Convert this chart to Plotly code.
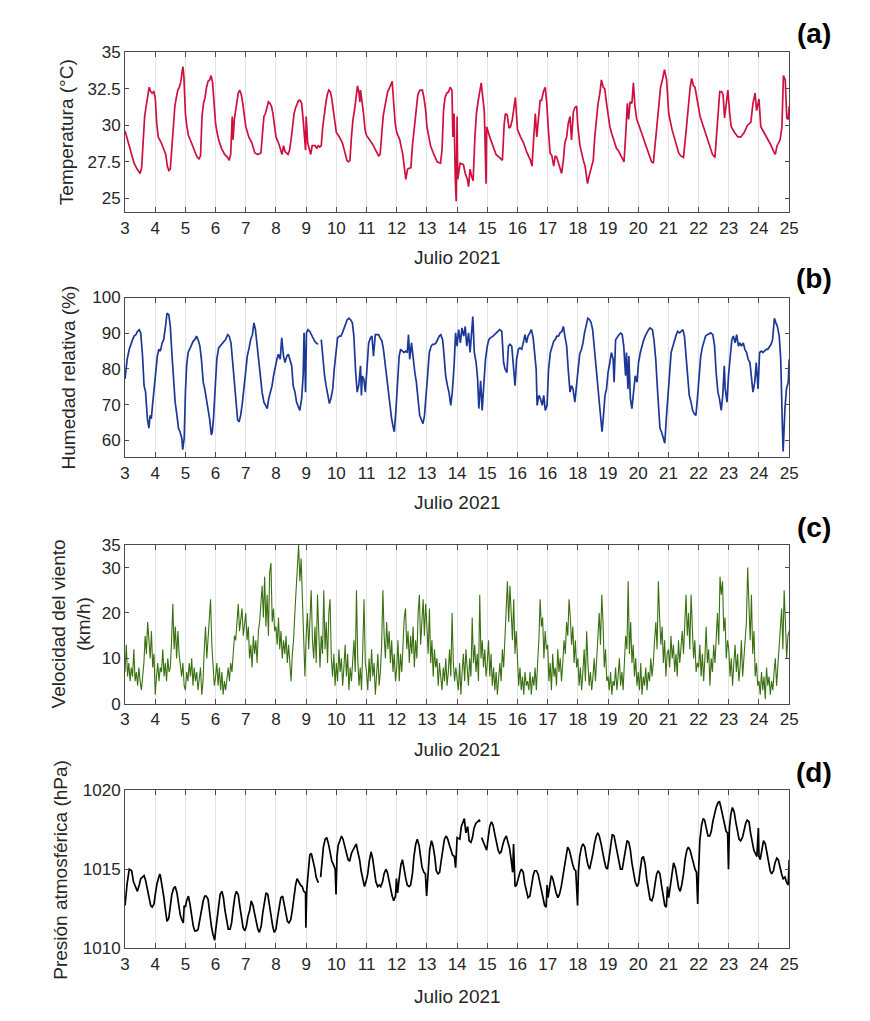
import plotly.graph_objects as go

# ---------------- data ----------------
days = list(range(3, 26))
day_labels = [str(d) for d in days]
day_labels_b = [str(d) for d in days]
day_labels_b[days.index(17)] = "16"   # as printed in panel (b)

temp_day = [3.0,3.1,3.2,3.3,3.4,3.5,3.55,3.6,3.65,3.7,3.75,3.8,3.85,3.9,3.95,4.0,4.05,4.1,4.2,4.3,4.35,4.4,4.45,4.5,4.55,4.6,4.65,4.7,4.75,4.8,4.85,4.9,4.92,4.95,
            5.0,5.05,5.1,5.2,5.3,5.35,5.4,5.45,5.5,5.55,5.6,5.65,5.7,5.75,5.8,5.85,5.9,5.95,6.0,6.05,6.1,6.2,6.3,6.4,6.45,6.5,6.55,6.58,6.62,6.7,6.75,6.8,6.85,6.9,6.95,
            7.0,7.1,7.2,7.3,7.4,7.5,7.55,7.6,7.65,7.7,7.75,7.8,7.85,7.9,7.95,8.0,8.1,8.15,8.2,8.25,8.3,8.4,8.45,8.5,8.55,8.6,8.65,8.7,8.75,8.8,8.85,8.9,8.95,8.98,
            9.0,9.03,9.05,9.1,9.15,9.2,9.3,9.35,9.4,9.45,9.5,9.55,9.6,9.65,9.7,9.75,9.8,9.85,9.9,9.95,10.0,10.1,10.2,10.3,10.35,10.4,10.45,10.5,10.55,10.6,10.65,10.7,10.75,10.78,10.8,10.85,10.9,10.95,
            11.0,11.1,11.2,11.3,11.35,11.4,11.45,11.5,11.55,11.6,11.65,11.7,11.75,11.8,11.85,11.9,11.95,12.0,12.1,12.2,12.25,12.3,12.36,12.47,12.52,12.63,12.7,12.77,12.85,12.9,12.96,
            13.0,13.12,13.23,13.34,13.45,13.5,13.55,13.6,13.66,13.72,13.77,13.83,13.86,13.9,13.94,13.97,14.0,14.02,14.1,14.21,14.27,14.34,14.38,14.43,14.48,14.53,14.59,14.64,14.7,14.75,14.8,14.85,14.9,14.96,14.98,
            15.08,15.18,15.29,15.4,15.5,15.56,15.6,15.66,15.72,15.77,15.83,15.93,16.0,16.1,16.2,16.3,16.43,16.48,16.53,16.59,16.64,16.7,16.75,16.8,16.86,16.92,16.97,
            17.03,17.08,17.14,17.2,17.25,17.3,17.36,17.41,17.46,17.52,17.57,17.63,17.68,17.74,17.79,17.85,17.9,17.96,18.0,18.07,18.13,18.18,18.24,18.29,18.32,18.37,18.46,18.51,18.56,18.62,18.67,18.73,18.78,18.84,18.89,18.95,
            19.0,19.06,19.11,19.22,19.28,19.33,19.44,19.53,19.58,19.64,19.68,19.73,19.79,19.84,19.89,19.95,20.04,20.15,20.26,20.37,20.44,20.5,20.58,20.69,20.74,20.8,20.87,20.94,
            21.01,21.12,21.23,21.34,21.41,21.5,21.59,21.66,21.72,21.77,21.83,21.88,21.96,22.05,22.16,22.27,22.37,22.46,22.54,22.59,22.65,22.7,22.76,22.81,22.86,22.92,22.97,
            23.03,23.08,23.19,23.3,23.4,23.51,23.62,23.73,23.8,23.87,23.92,24.0,24.06,24.17,24.27,24.38,24.49,24.54,24.6,24.7,24.76,24.81,24.87,24.92,24.97,25.0]
temp_c = [29.6,28.8,28.1,27.4,27.0,26.7,27.1,29.2,30.6,31.3,32.1,32.6,32.3,32.2,32.3,31.9,30.1,29.2,28.8,28.3,28.0,27.2,26.9,27.0,28.6,30.1,31.3,31.9,32.4,32.6,33.0,33.8,34.0,33.3,
          30.8,29.9,29.3,28.8,28.2,28.0,27.8,27.7,27.9,30.6,31.5,31.9,32.6,33.0,33.1,33.4,32.9,31.5,30.1,29.5,29.0,28.4,28.0,27.8,27.6,28.0,30.6,29.0,30.4,31.5,32.2,32.4,32.1,31.5,30.6,
          29.9,29.2,28.8,28.1,28.0,28.1,29.2,30.6,30.8,31.2,31.6,31.5,31.3,30.8,30.1,29.2,28.7,28.4,28.0,28.6,28.2,28.0,28.3,29.0,30.1,30.8,31.2,31.5,31.7,31.7,31.5,30.4,29.2,28.3,
          30.6,29.0,28.8,28.4,28.0,28.6,28.6,28.4,28.6,28.5,28.6,29.9,30.8,31.5,32.1,32.4,32.3,31.8,31.0,30.1,29.5,29.2,28.8,28.0,27.6,27.5,27.6,29.2,30.4,31.0,31.9,32.7,32.2,31.6,32.4,31.7,30.8,29.7,
          29.3,29.0,28.7,28.3,28.1,27.9,28.0,29.2,30.6,31.2,31.9,32.3,32.5,32.7,33.0,31.5,30.1,29.5,29.0,28.0,27.2,26.3,27.0,27.1,28.6,30.8,32.1,32.4,32.4,31.9,31.0,
          29.9,28.6,28.0,27.5,27.4,28.3,31.0,31.9,32.2,32.3,32.6,32.4,29.2,30.8,26.3,24.8,30.6,26.3,27.4,27.3,26.7,26.3,25.8,27.0,26.5,26.2,29.2,30.8,31.7,32.4,32.9,31.9,31.0,26.0,29.9,
          29.2,28.6,28.0,27.8,27.6,30.1,30.8,30.7,29.8,29.9,30.4,31.9,29.7,29.2,28.8,28.2,27.6,27.2,29.0,30.8,29.2,30.8,31.7,31.7,32.3,32.6,31.5,
          29.5,28.1,27.9,27.2,27.9,27.8,27.4,27.0,26.7,27.6,28.8,29.2,30.1,30.6,29.0,30.9,31.2,31.3,29.9,28.6,27.9,27.6,27.2,26.6,26.0,26.5,27.2,27.6,29.2,30.6,31.5,32.2,33.1,32.6,32.5,31.5,
          30.6,29.9,29.5,28.8,28.4,28.3,27.8,27.5,29.2,31.5,30.4,31.6,31.5,32.9,31.3,30.4,29.9,29.2,28.6,27.9,27.5,27.4,29.2,31.5,32.6,33.1,33.8,33.1,
          30.8,29.7,28.8,28.1,27.9,27.8,29.7,31.5,32.6,33.2,32.7,32.6,31.7,30.6,29.9,29.2,28.6,28.0,27.8,29.2,31.5,32.3,32.3,32.1,30.5,31.5,32.4,
          30.8,29.9,29.5,29.2,29.2,29.5,30.0,30.2,31.5,32.2,31.0,31.8,29.9,29.5,29.1,28.7,28.2,28.0,28.6,29.0,29.9,33.4,33.1,30.5,30.4,31.3]

hum_day = [3.0,3.07,3.14,3.2,3.25,3.3,3.36,3.41,3.47,3.52,3.58,3.63,3.68,3.74,3.79,3.83,3.87,3.92,3.96,4.01,4.07,4.12,4.17,4.23,4.28,4.34,4.39,4.45,4.5,4.55,4.61,4.66,4.72,4.77,4.82,4.88,4.91,4.96,
           5.0,5.04,5.09,5.15,5.2,5.26,5.31,5.37,5.42,5.48,5.53,5.59,5.64,5.69,5.75,5.8,5.86,5.89,5.93,6.0,6.04,6.1,6.15,6.21,6.26,6.33,6.4,6.45,6.51,6.56,6.62,6.67,6.73,6.78,6.83,6.89,6.94,
           7.0,7.05,7.11,7.16,7.22,7.27,7.32,7.38,7.43,7.49,7.54,7.6,7.65,7.71,7.76,7.81,7.87,7.92,7.98,8.03,8.08,8.14,8.19,8.25,8.3,8.36,8.41,8.46,8.52,8.57,8.63,8.68,8.74,8.79,8.85,8.9,8.93,8.98,
           9.01,9.06,9.12,9.17,9.23,9.28,9.33,9.39,9.45,9.5,9.55,9.61,9.66,9.72,9.77,9.82,9.88,9.93,9.99,10.04,10.1,10.15,10.2,10.26,10.31,10.36,10.42,10.47,10.53,10.58,10.64,10.69,10.74,10.8,10.83,10.86,10.91,10.96,
           11.02,11.07,11.13,11.18,11.23,11.29,11.34,11.4,11.45,11.51,11.56,11.62,11.67,11.72,11.78,11.83,11.89,11.92,11.97,12.03,12.08,12.13,12.18,12.24,12.29,12.35,12.39,12.43,12.49,12.54,12.6,12.65,12.71,12.76,12.82,12.87,12.92,12.98,
           13.03,13.08,13.14,13.19,13.24,13.3,13.35,13.41,13.46,13.52,13.57,13.62,13.68,13.73,13.79,13.84,13.9,13.95,14.0,14.05,14.11,14.16,14.22,14.27,14.32,14.38,14.43,14.49,14.52,14.57,14.63,14.68,14.72,14.78,14.83,14.89,14.94,
           15.0,15.05,15.1,15.19,15.3,15.41,15.48,15.54,15.59,15.65,15.7,15.75,15.81,15.86,15.92,15.97,16.03,16.08,16.14,16.19,16.25,16.3,16.35,16.41,16.46,16.52,16.57,16.62,16.65,16.71,16.76,16.82,16.87,16.92,16.98,
           17.03,17.09,17.14,17.2,17.25,17.3,17.36,17.41,17.47,17.52,17.57,17.63,17.68,17.74,17.79,17.84,17.9,17.95,18.01,18.06,18.12,18.17,18.22,18.28,18.33,18.39,18.44,18.49,18.55,18.6,18.66,18.71,18.76,18.8,18.84,18.9,18.95,
           19.0,19.06,19.11,19.17,19.2,19.25,19.31,19.36,19.42,19.47,19.52,19.58,19.61,19.66,19.69,19.74,19.79,19.85,19.9,19.96,20.01,20.07,20.12,20.17,20.23,20.28,20.34,20.39,20.47,20.52,20.58,20.63,20.68,20.72,20.77,20.82,20.88,20.93,20.99,
           21.04,21.09,21.15,21.2,21.26,21.31,21.37,21.42,21.48,21.53,21.58,21.64,21.69,21.75,21.8,21.85,21.91,21.96,22.02,22.07,22.12,22.18,22.23,22.29,22.4,22.47,22.53,22.58,22.64,22.69,22.75,22.8,22.85,22.88,22.94,22.99,
           23.05,23.1,23.15,23.21,23.26,23.32,23.37,23.42,23.48,23.53,23.59,23.64,23.7,23.75,23.8,23.86,23.91,23.97,24.02,24.08,24.13,24.18,24.24,24.29,24.35,24.4,24.45,24.51,24.56,24.61,24.67,24.72,24.78,24.8,24.86,24.91,24.97,25.0]
hum_pct = [77.2,82.7,85.5,87.3,88.2,89.2,89.6,90.5,91.0,90.1,83.6,75.3,73.5,66.1,63.4,67.0,66.1,70.7,74.4,79.0,83.6,85.5,85.0,87.3,88.2,91.9,95.6,95.2,91.9,84.6,77.2,70.7,67.0,63.4,62.4,60.6,57.4,60.6,
           73.5,80.9,84.6,85.9,86.9,87.8,88.2,89.2,88.2,86.4,82.7,76.3,74.4,71.7,69.8,66.1,61.5,62.4,66.1,77.2,82.7,85.9,86.4,87.3,87.8,88.2,89.6,89.2,87.3,82.7,76.3,70.7,65.7,65.2,67.0,70.7,75.3,
           80.9,83.6,85.9,88.2,89.6,92.9,91.0,86.4,82.7,77.2,73.5,70.7,69.8,68.9,71.7,73.5,75.3,78.1,81.3,82.7,84.1,82.7,88.7,83.6,81.8,83.6,84.1,82.7,80.9,75.3,73.5,70.7,69.3,68.4,71.7,78.1,90.1,73.5,
           90.1,91.0,90.5,89.6,88.7,87.8,87.3,86.9,None,88.2,82.7,78.1,75.3,72.6,70.3,71.7,74.4,79.9,85.5,88.7,89.2,89.2,90.1,91.5,92.9,93.8,94.2,93.8,92.9,89.2,79.0,73.5,75.3,80.9,72.6,78.0,77.2,73.5,
           80.9,87.3,88.7,89.2,83.6,89.6,89.6,89.6,88.7,87.8,85.5,80.9,77.2,73.5,69.8,66.1,63.4,62.4,68.0,76.3,83.6,85.5,85.0,84.6,85.0,84.6,89.6,82.7,87.3,82.7,79.0,76.3,70.7,67.0,65.7,64.7,67.0,72.6,
           79.0,84.6,86.4,86.9,86.9,87.3,88.2,89.2,89.6,88.2,83.6,78.1,75.3,73.5,69.8,73.5,80.9,90.1,86.4,91.0,87.3,91.5,89.2,91.9,86.4,90.1,84.6,91.0,94.7,84.6,81.8,77.2,68.9,76.7,68.4,76.3,82.7,
           86.4,88.2,88.7,89.2,90.1,91.0,90.5,81.8,79.9,79.0,86.4,86.9,86.4,80.4,75.3,82.7,85.5,85.9,85.5,87.3,89.6,87.3,89.2,90.1,91.0,88.7,83.6,79.9,69.8,72.6,71.7,69.8,72.6,68.4,69.8,
           79.9,84.6,86.4,87.8,88.2,89.2,89.2,90.1,90.5,91.9,89.2,86.4,79.9,73.5,75.3,74.4,70.7,75.3,80.9,84.1,85.5,87.3,90.1,92.9,94.2,93.8,92.9,91.0,85.5,80.9,76.3,71.7,67.0,62.4,66.1,72.6,74.4,
           79.0,81.8,84.6,82.7,76.3,88.2,89.2,89.6,90.1,89.6,86.4,78.1,84.6,74.4,83.6,71.7,68.9,75.3,78.1,76.3,81.8,84.6,86.4,87.8,89.2,90.1,91.0,91.5,91.0,88.2,82.7,75.3,68.9,63.4,62.4,60.6,59.2,66.1,73.5,
           80.9,84.6,86.4,88.2,89.6,90.5,90.1,90.5,91.0,89.2,83.6,76.3,72.6,70.7,68.4,67.5,67.0,71.7,78.1,83.6,85.9,88.2,89.2,89.6,90.1,89.6,86.4,79.0,73.5,71.7,68.4,72.6,80.9,74.4,70.7,78.1,
           84.6,88.2,89.2,87.3,89.6,86.4,87.3,86.4,87.3,85.5,84.6,82.7,81.8,78.1,73.5,76.3,81.8,74.4,84.6,85.0,84.6,85.0,85.5,85.5,86.4,86.9,88.2,94.2,92.9,91.9,89.2,82.7,62.4,56.9,68.9,74.4,76.3,82.7]

# wind speed, one value per hour from 3 July 00h to 25 July 00h (km/h)
wind_kmh = [
    7,13,6,9,5,8,6,12,5,7,4,8,5,3,6,9,15,11,18,14,10,16,8,11,
    2,6,9,5,8,7,12,6,9,5,10,7,8,14,22,12,17,10,16,11,8,6,9,4,
    3,7,5,9,6,10,4,8,5,7,3,6,8,2,5,12,17,10,14,20,23,13,8,4,
    6,9,4,8,3,7,2,5,3,6,8,5,9,7,12,15,14,18,22,16,19,21,15,18,
    20,14,17,10,13,8,15,11,14,9,16,18,22,26,19,28,17,24,15,29,31,18,21,16,
    17,13,19,12,16,10,14,11,15,9,13,8,5,11,14,20,24,30,35,27,32,22,14,6,
    15,20,12,18,25,14,10,17,9,24,13,8,15,11,25,12,18,9,20,23,10,6,11,4,
    9,5,12,7,10,4,8,13,6,11,3,8,5,9,14,7,25,10,4,8,3,12,23,9,
    7,3,10,5,12,6,9,2,8,11,4,7,13,25,15,10,18,12,16,9,14,7,11,5,
    8,14,5,11,7,13,19,21,12,16,9,15,11,17,8,14,10,20,24,13,18,23,15,22,
    17,11,21,9,14,6,12,8,10,4,9,6,3,8,5,10,4,7,12,6,20,9,5,8,
    6,3,9,2,7,11,5,12,8,4,10,6,19,9,13,7,11,5,24,10,14,8,12,6,
    9,14,6,11,4,8,3,7,2,6,9,5,12,8,15,21,27,18,26,20,14,23,11,16,
    10,4,8,3,6,2,7,4,5,3,7,2,6,4,8,3,9,14,23,17,19,10,16,12,
    13,5,9,3,11,6,8,4,12,7,10,5,9,14,11,18,15,23,19,13,17,9,14,8,
    10,4,8,3,7,12,5,16,9,4,7,3,6,10,5,11,15,20,13,24,18,8,12,5,
    6,3,7,2,5,4,8,3,6,10,4,7,3,9,15,12,27,11,18,9,13,6,10,4,
    7,3,9,2,6,4,8,3,7,5,10,6,9,14,18,12,27,19,13,17,9,14,6,11,
    12,8,15,10,13,7,11,6,14,9,12,16,11,19,24,15,20,12,24,17,10,14,7,9,
    8,13,6,11,5,10,17,9,12,4,10,7,13,9,15,20,13,28,24,27,16,19,10,14,
    12,6,10,4,9,13,7,11,5,8,14,6,10,15,18,30,20,14,24,11,16,6,9,4,
    5,2,7,3,6,1,8,4,6,2,5,3,7,10,4,8,13,16,21,12,25,18,10,15,
    16]
wind_day = [3 + h / 24 for h in range(len(wind_kmh))]

pres_day = [3.0,3.07,3.14,3.22,3.28,3.36,3.41,3.47,3.52,3.58,3.63,3.68,3.74,3.79,3.85,3.9,3.96,4.01,4.06,4.12,4.15,4.17,4.22,4.28,4.34,4.39,4.45,4.5,4.55,4.61,4.66,4.72,4.77,4.83,4.88,4.93,4.96,
            5.0,5.04,5.1,5.15,5.2,5.26,5.31,5.37,5.42,5.48,5.53,5.59,5.64,5.69,5.75,5.8,5.86,5.91,5.97,6.0,6.04,6.1,6.15,6.21,6.26,6.31,6.37,6.42,6.48,6.53,6.59,6.64,6.69,6.75,6.8,6.86,6.91,6.97,
            7.02,7.07,7.13,7.18,7.24,7.29,7.35,7.4,7.45,7.51,7.56,7.62,7.67,7.73,7.78,7.83,7.89,7.94,8.0,8.05,8.1,8.16,8.22,8.27,8.32,8.38,8.43,8.49,8.54,8.6,8.65,8.7,8.76,8.81,8.87,8.92,8.98,8.99,
            9.02,9.06,9.12,9.17,9.23,9.28,9.33,9.39,9.42,9.45,9.48,9.52,9.57,9.63,9.68,9.74,9.79,9.85,9.9,9.96,9.99,10.02,10.06,10.12,10.17,10.22,10.28,10.33,10.39,10.44,10.5,10.55,10.61,10.66,10.71,10.77,10.82,10.87,10.93,10.98,
            11.04,11.09,11.15,11.2,11.25,11.31,11.37,11.42,11.47,11.53,11.58,11.64,11.69,11.74,11.8,11.85,11.9,11.96,11.99,12.03,12.08,12.14,12.19,12.24,12.3,12.35,12.41,12.46,12.52,12.57,12.63,12.68,12.74,12.79,12.84,12.9,12.95,12.99,
            13.04,13.09,13.15,13.2,13.26,13.31,13.37,13.42,13.47,13.53,13.58,13.64,13.69,13.75,13.8,13.85,13.91,13.95,14.0,14.09,14.14,14.2,14.24,14.29,14.35,14.4,14.46,14.51,14.56,14.62,14.67,14.73,14.76,14.785,14.81,14.87,14.92,14.98,
            15.03,15.08,15.14,15.19,15.25,15.3,15.36,15.41,15.46,15.52,15.57,15.63,15.68,15.74,15.79,15.84,15.87,15.92,15.97,16.03,16.08,16.13,16.19,16.24,16.3,16.35,16.41,16.46,16.52,16.57,16.63,16.68,16.73,16.79,16.84,16.9,16.95,16.98,
            17.01,17.07,17.12,17.17,17.23,17.28,17.34,17.39,17.45,17.5,17.55,17.61,17.66,17.72,17.77,17.83,17.88,17.93,17.99,18.02,18.06,18.12,18.17,18.23,18.28,18.33,18.39,18.44,18.5,18.55,18.61,18.66,18.71,18.77,18.82,18.88,18.93,18.98,
            19.04,19.09,19.14,19.2,19.25,19.31,19.36,19.41,19.47,19.52,19.58,19.63,19.69,19.74,19.79,19.85,19.9,19.96,20.01,20.07,20.12,20.17,20.23,20.28,20.34,20.39,20.45,20.5,20.56,20.61,20.66,20.72,20.77,20.83,20.88,20.93,20.97,
            21.01,21.07,21.12,21.17,21.23,21.28,21.34,21.39,21.44,21.5,21.55,21.61,21.66,21.72,21.77,21.82,21.88,21.93,21.97,22.0,22.04,22.1,22.15,22.2,22.26,22.31,22.37,22.42,22.47,22.53,22.58,22.64,22.69,22.74,22.8,22.85,22.91,22.96,22.99,
            23.02,23.07,23.12,23.18,23.23,23.29,23.34,23.39,23.45,23.5,23.56,23.61,23.67,23.72,23.77,23.83,23.88,23.93,23.98,24.0,24.04,24.1,24.15,24.21,24.26,24.32,24.37,24.42,24.48,24.53,24.59,24.64,24.7,24.75,24.8,24.86,24.91,24.97,25.0]
pres_hpa = [1012.7,1014.1,1015.0,1014.9,1014.2,1013.8,1013.6,1014.0,1014.4,1014.5,1014.6,1014.3,1013.7,1013.1,1012.7,1012.6,1012.8,1013.5,1014.1,1014.5,1014.7,1014.6,1014.1,1013.3,1012.4,1011.7,1011.9,1012.6,1013.4,1013.8,1013.9,1013.5,1012.8,1012.1,1011.8,1011.6,1012.7,
            1012.6,1013.0,1013.3,1012.8,1012.1,1011.4,1011.1,1011.1,1011.2,1011.8,1012.5,1013.0,1013.3,1013.3,1013.1,1012.2,1011.4,1010.9,1010.5,1011.1,1011.8,1012.6,1013.4,1013.6,1013.2,1012.4,1011.7,1011.2,1011.2,1011.6,1012.6,1013.3,1013.6,1013.4,1012.7,1011.9,1011.3,1011.1,
            1011.4,1012.0,1012.4,1013.0,1012.7,1012.2,1011.6,1011.2,1011.0,1011.4,1012.2,1013.1,1013.5,1013.4,1012.7,1012.0,1011.4,1011.0,1011.2,1011.9,1012.6,1013.2,1013.3,1012.8,1012.2,1011.7,1011.6,1011.8,1012.4,1013.3,1014.0,1014.4,1014.2,1014.0,1013.9,1013.6,1013.5,1011.3,
            1013.7,1014.7,1015.9,1016.0,1015.6,1015.1,1014.5,1014.2,1014.2,None,1014.5,1015.6,1016.4,1016.9,1017.0,1016.6,1016.0,1015.5,1015.3,1015.0,1013.4,1015.8,1016.5,1016.9,1017.1,1016.9,1016.4,1015.9,1015.6,1015.5,1016.0,1016.2,1016.4,1016.6,1016.1,1015.6,1014.9,1014.4,1013.9,1014.2,
            1014.7,1015.5,1016.1,1015.7,1014.9,1014.2,1013.9,1014.0,1013.9,1014.2,1014.7,1015.0,1014.8,1014.3,1013.7,1013.3,1013.0,1013.3,1014.4,1013.5,1014.4,1015.3,1015.6,1014.9,1014.4,1014.0,1013.9,1014.0,1014.7,1015.8,1016.6,1016.9,1016.5,1015.8,1015.1,1014.8,1014.7,1013.3,
            1015.1,1016.2,1016.8,1016.5,1015.8,1014.9,1014.7,1014.8,1015.5,1016.2,1016.9,1017.1,1016.9,1016.5,1016.2,1015.9,1015.8,1015.1,1017.0,1016.9,1017.7,1018.0,1018.2,1017.3,1017.7,1016.8,1016.7,1017.0,1017.6,1017.9,1018.0,1018.1,1018.0,None,1017.0,1016.7,1016.5,1016.2,
            1017.0,1017.7,1018.0,1017.8,1017.2,1016.7,1016.2,1016.0,1016.1,1016.6,1016.9,1017.1,1016.8,1016.3,1015.6,1014.8,1016.6,1013.9,1014.0,1014.5,1014.8,1015.0,1014.8,1014.1,1013.5,1013.2,1013.3,1013.9,1014.6,1014.9,1014.9,1014.7,1014.2,1013.6,1013.1,1012.7,1012.6,1014.0,
            1013.2,1014.0,1014.6,1014.4,1013.9,1013.5,1013.2,1013.4,1013.9,1014.5,1015.3,1016.0,1016.4,1016.2,1015.7,1015.3,1015.0,1014.9,1012.7,1014.9,1015.8,1016.4,1016.6,1016.4,1015.8,1015.3,1015.0,1015.4,1016.0,1016.6,1017.1,1017.3,1017.1,1016.6,1016.0,1015.5,1015.1,1015.0,
            1015.8,1016.7,1017.2,1017.1,1016.6,1016.0,1015.4,1015.0,1015.0,1015.6,1016.4,1016.8,1016.7,1016.2,1015.4,1014.6,1014.2,1013.9,1014.1,1015.0,1015.7,1015.8,1015.3,1014.4,1013.6,1013.1,1013.0,1013.3,1014.1,1014.7,1014.9,1014.7,1014.0,1013.3,1012.7,1012.6,1013.9,
            1013.2,1014.1,1014.9,1015.4,1015.1,1014.4,1013.8,1013.6,1014.0,1014.7,1015.6,1016.2,1016.4,1016.2,1015.8,1015.4,1015.0,1014.8,1012.8,1014.9,1016.8,1017.8,1018.2,1018.1,1017.4,1017.1,1017.1,1017.4,1018.0,1018.5,1018.9,1019.2,1019.3,1018.9,1018.3,1017.8,1017.4,1017.3,1015.0,
            1017.6,1018.5,1018.9,1018.6,1018.0,1017.3,1016.9,1016.8,1017.0,1017.4,1017.9,1018.1,1018.0,1017.3,1016.8,1016.2,1016.0,1015.8,1017.6,1015.8,1015.6,1016.2,1016.8,1016.6,1016.1,1015.5,1014.9,1014.7,1014.9,1015.4,1015.7,1015.6,1015.0,1014.7,1014.4,1014.5,1014.2,1014.0,1015.6]

# ---------------- layout helpers ----------------
W, H = 870, 1021
X0, X1 = 122, 797
panel_px = [(44, 207), (294, 457), (546, 708), (796, 957)]
FONT = "Liberation Sans, Arial, Helvetica, sans-serif"
TXT = "#262626"
AX = "#4a4a4a"

def py(y):
    return 1 - y / H

def px(x):
    return x / W

fig = go.Figure()
fig.add_trace(go.Scatter(x=temp_day, y=temp_c, mode="lines", line=dict(color="#CF0F3D", width=1.7),
                         xaxis="x", yaxis="y", showlegend=False))
fig.add_trace(go.Scatter(x=hum_day, y=hum_pct, mode="lines", line=dict(color="#1C3896", width=1.7),
                         xaxis="x2", yaxis="y2", showlegend=False))
fig.add_trace(go.Scatter(x=wind_day, y=wind_kmh, mode="lines", line=dict(color="#3A7010", width=1.1),
                         xaxis="x3", yaxis="y3", showlegend=False))
fig.add_trace(go.Scatter(x=pres_day, y=pres_hpa, mode="lines", line=dict(color="#000000", width=1.7),
                         xaxis="x4", yaxis="y4", showlegend=False))

yranges = [[24.05, 35], [55.2, 100], [0, 35], [1010, 1020]]
yticks = [([25, 27.5, 30, 32.5, 35], ["25", "27.5", "30", "32.5", "35"]),
          ([60, 70, 80, 90, 100], ["60", "70", "80", "90", "100"]),
          ([0, 10, 20, 30, 35], ["0", "10", "20", "30", "35"]),
          ([1010, 1015, 1020], ["1010", "1015", "1020"])]
xlabels = [day_labels, day_labels_b, day_labels, day_labels]

layout = dict(width=W, height=H, margin=dict(l=0, r=0, t=0, b=0),
              paper_bgcolor="white", plot_bgcolor="white", showlegend=False,
              font=dict(family=FONT, color=TXT, size=17))

for i, (top, bot) in enumerate(panel_px):
    sfx = "" if i == 0 else str(i + 1)
    layout["xaxis" + sfx] = dict(
        domain=[px(X0), px(X1)], range=[3, 25], anchor="y" + sfx,
        tickmode="array", tickvals=days, ticktext=xlabels[i],
        ticks="inside", ticklen=5, tickcolor=AX, tickwidth=1,
        showline=True, linecolor=AX, linewidth=1, mirror="ticks",
        showgrid=True, gridcolor="#e3e3e3", gridwidth=1, zeroline=False,
        tickfont=dict(size=17, color=TXT, family=FONT))
    layout["yaxis" + sfx] = dict(
        domain=[py(bot), py(top)], range=yranges[i], anchor="x" + sfx,
        tickmode="array", tickvals=yticks[i][0], ticktext=yticks[i][1],
        ticks="inside", ticklen=4, tickcolor=AX, tickwidth=1,
        showline=True, linecolor=AX, linewidth=1, mirror="ticks",
        showgrid=False, zeroline=False,
        tickfont=dict(size=17, color=TXT, family=FONT))

ann = []
# panel letters
for lab, y in zip(["(a)", "(b)", "(c)", "(d)"], [25, 275, 528, 778]):
    ann.append(dict(text="<b>%s</b>" % lab, x=px(822), y=py(y), xref="paper", yref="paper",
                    xanchor="center", yanchor="middle", showarrow=False,
                    font=dict(size=28, color="#000000", family="Liberation Sans, Arial, sans-serif")))
# x titles
for y in [253, 503, 755, 1006]:
    ann.append(dict(text="Julio 2021", x=px((X0 + X1) / 2), y=py(y), xref="paper", yref="paper",
                    xanchor="center", yanchor="middle", showarrow=False,
                    font=dict(size=19, color=TXT, family=FONT)))
# y titles
ytitles = [("Temperatura (°C)", 62, 125.5), ("Humedad relativa (%)", 65, 375.5),
           ("Velocidad del viento", 54, 627), ("(km/h)", 80, 627),
           ("Presión atmosférica (hPa)", 57, 877)]
for txt, x, y in ytitles:
    ann.append(dict(text=txt, x=px(x), y=py(y), xref="paper", yref="paper", textangle=-90,
                    xanchor="center", yanchor="middle", showarrow=False,
                    font=dict(size=19, color=TXT, family=FONT)))
layout["annotations"] = ann

fig.update_layout(**layout)
fig.write_html("out.html")
